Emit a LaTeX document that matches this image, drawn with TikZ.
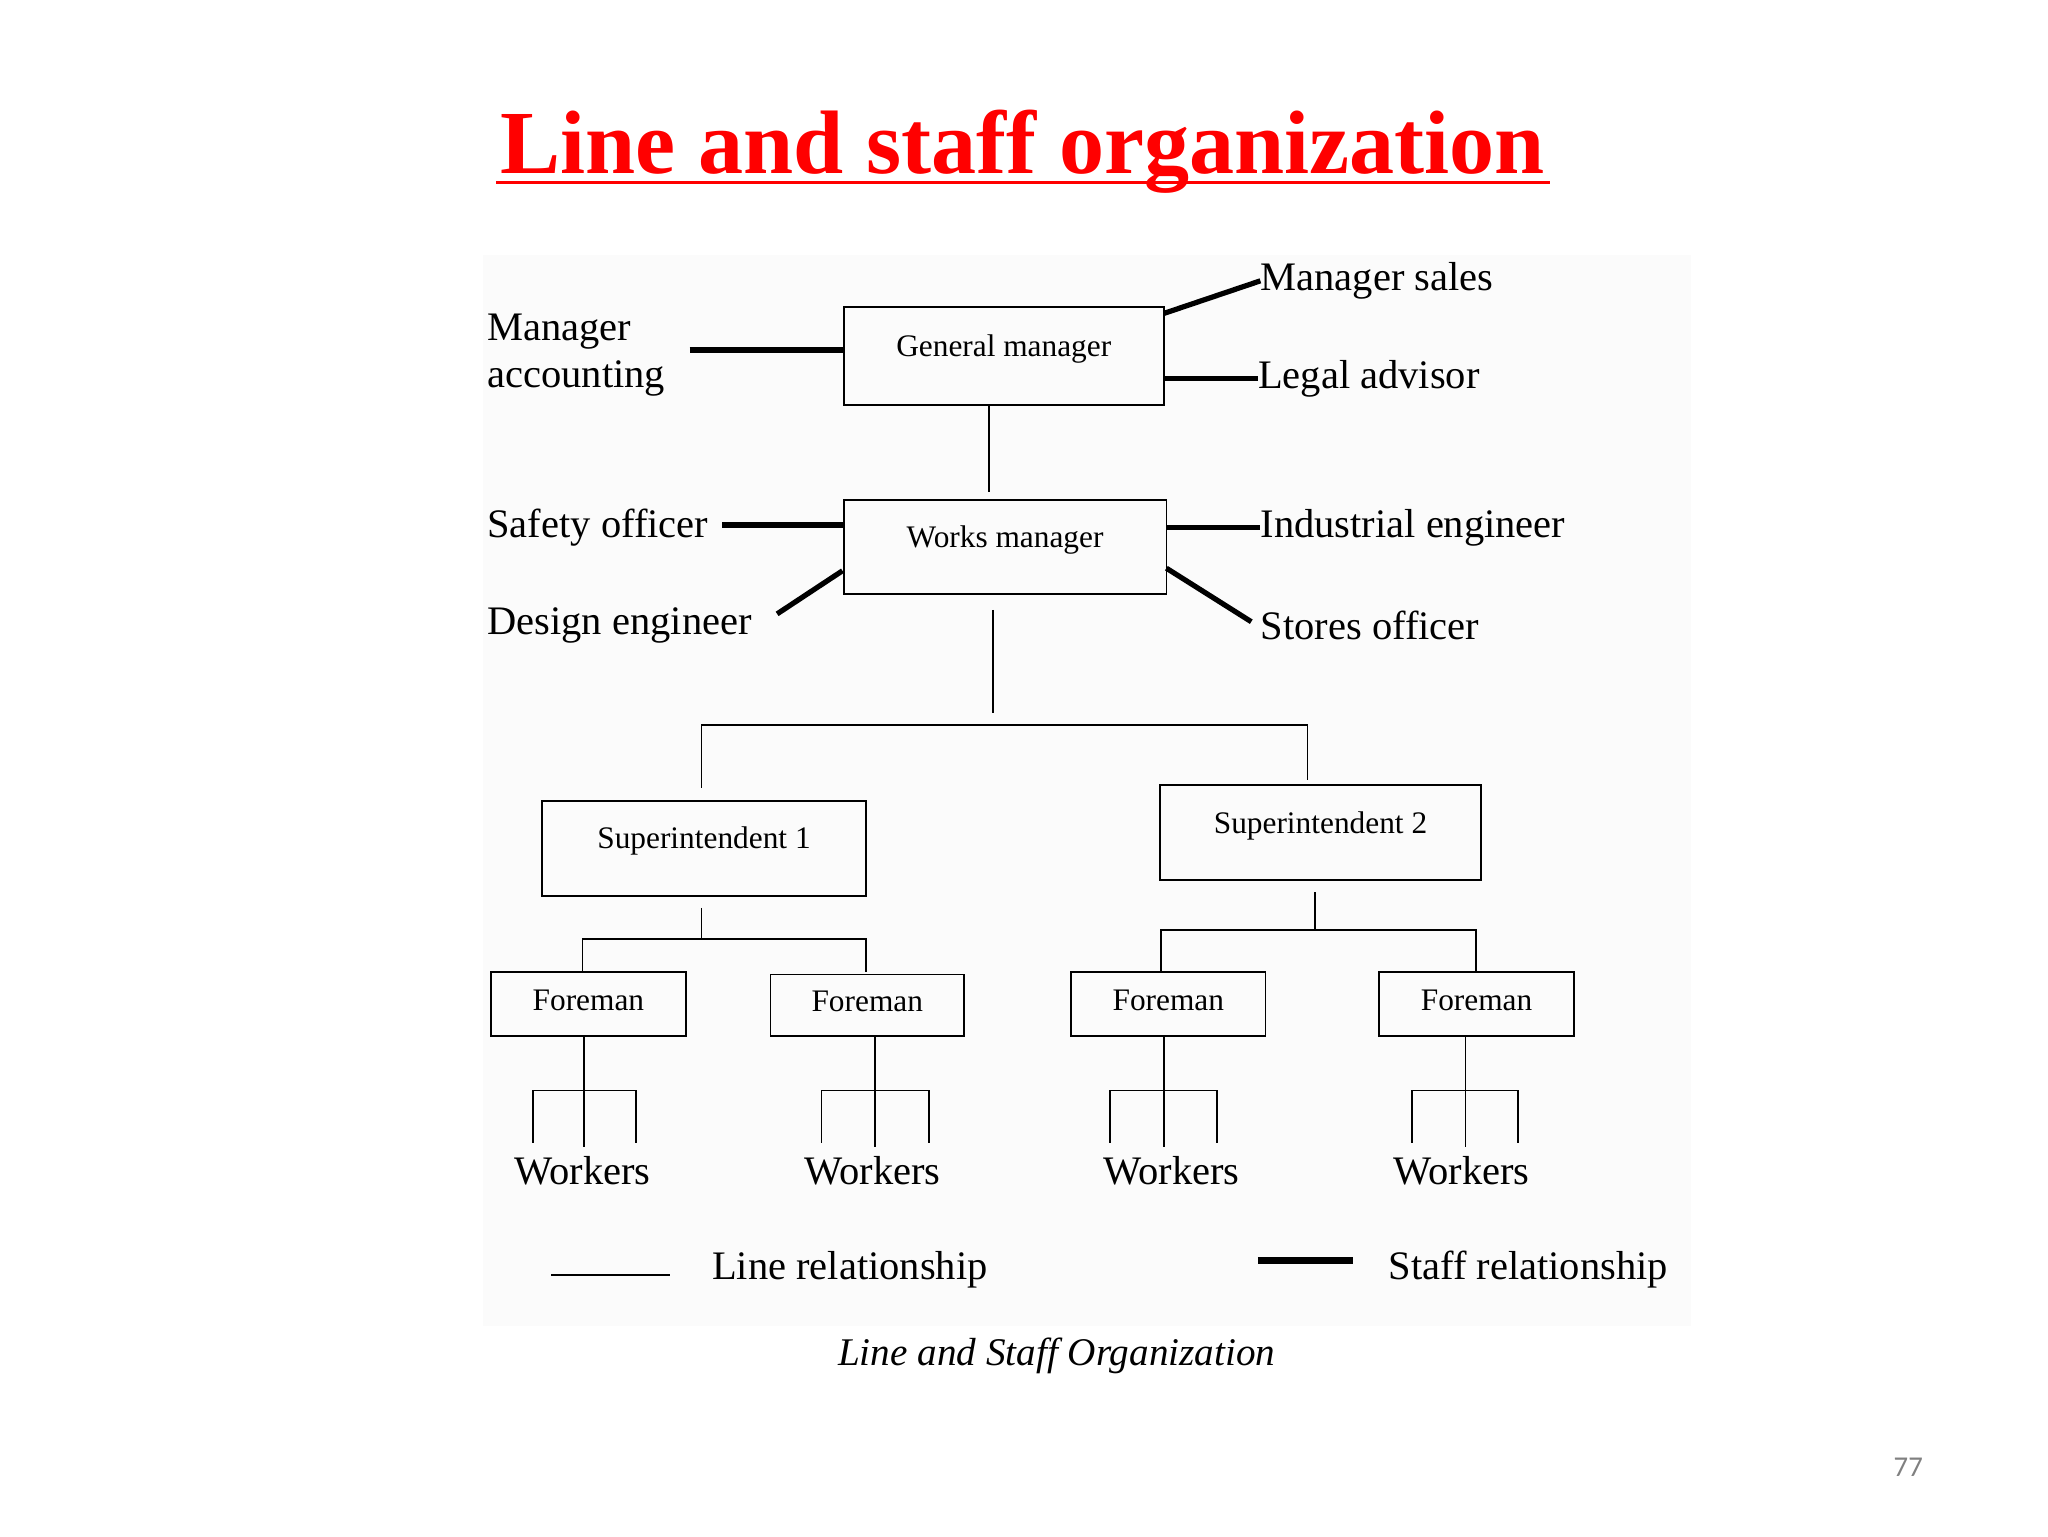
\documentclass[tikz,border=0pt]{standalone}
\usepackage{fontspec}
\setmainfont{Liberation Serif}
\newfontfamily\pgnum{Carlito}
\begin{document}
\begin{tikzpicture}[x=1pt,y=-1pt,
 box/.style={draw,line width=1.3pt,minimum width=#1,inner sep=0pt,text depth=16pt,font=\fontsize{24}{26}\selectfont},
 lbl/.style={font=\fontsize{31}{36}\selectfont,inner sep=0pt},
 ln/.style={line width=1.3pt},
 st/.style={line width=4pt}]
\useasboundingbox (0,0) rectangle (1568,1176);
\fill[gray!3] (370,195) rectangle (1295,1015);
\node[font=\fontsize{69}{76}\selectfont\bfseries,text=red] (title) at (783,116) {Line and staff organization};
\draw[red,line width=2.5pt] (380,140) -- (1187,140);
% boxes
\node[box=245pt,minimum height=75pt] (gm) at (768.5,272.5) {General manager};
\node[box=247pt,minimum height=72pt] (wm) at (769.5,419) {Works manager};
\node[box=248pt,minimum height=73pt] (s1) at (539,649.5) {Superintendent 1};
\node[box=246pt,minimum height=73pt] (s2) at (1011,637.5) {Superintendent 2};
\node[box=149pt,minimum height=49pt,text depth=6pt] (f1) at (450.5,768.5) {Foreman};
\node[box=148pt,minimum height=47pt,text depth=6pt] (f2) at (664,769.5) {Foreman};
\node[box=149pt,minimum height=49pt,text depth=6pt] (f3) at (894.5,768.5) {Foreman};
\node[box=149pt,minimum height=49pt,text depth=6pt] (f4) at (1130.5,768.5) {Foreman};
% staff labels
\node[lbl,anchor=west,align=left] (ma) at (373,272) {Manager\\accounting};
\node[lbl,anchor=west] (ms) at (965,215) {Manager sales};
\node[lbl,anchor=west] (la) at (963,290) {Legal advisor};
\node[lbl,anchor=west] (so) at (373,404) {Safety officer};
\node[lbl,anchor=west] (de) at (373,479) {Design engineer};
\node[lbl,anchor=west] (ie) at (965,404) {Industrial engineer};
\node[lbl,anchor=west] (sto) at (965,479) {Stores officer};
\coordinate (a1) at (528,268); \draw[st] (a1) -- (gm.west|-a1);
\coordinate (a2) at (891,240); \draw[st] (a2) -- (ms.west);
\coordinate (a3) at (891,290); \draw[st] (a3) -- (la.west);
\coordinate (a4) at (553,402); \draw[st] (a4) -- (wm.west|-a4);
\coordinate (a5) at (595,470); \coordinate (a5e) at (645,437); \draw[st] (a5) -- (a5e);
\coordinate (a6) at (893,404); \draw[st] (a6) -- (ie.west|-a6);
\coordinate (a7) at (893,435); \coordinate (a7e) at (958,476); \draw[st] (a7) -- (a7e);
% line relationships
\draw[ln] (gm.south-|757,0) -- (757,377);
\draw[ln] (760,467) -- (760,546);
\draw[ln] (537,603) -- (537,555) -- (1001,555) -- (1001,597);
\draw[ln] (537,695) -- (537,719);
\draw[ln] (446,744) -- (446,719) -- (663,719) -- (663,744);
\draw[ln] (1007,683) -- (1007,712);
\draw[ln] (889,744) -- (889,712) -- (1130,712) -- (1130,744);
\foreach \n/\c/\l/\r/\tx in {w1/447/408/487/446,w2/670/629/711/668,w3/891/850/932/897,w4/1122/1081/1162/1119}{
 \draw[ln] (\c,793) -- (\c,878);
 \draw[ln] (\l,875) -- (\l,835) -- (\r,835) -- (\r,875);
 \node[lbl] (\n) at (\tx,896) {Workers};
}
% legend
\node[lbl,anchor=west] (lr) at (545,972) {Line relationship};
\node[lbl,anchor=west] (sr) at (1063,972) {Staff relationship};
\coordinate (l1) at (422,976); \draw[ln] (l1) -- (513,976);
\coordinate (l2) at (963,965); \draw[line width=5pt] (l2) -- (1036,965);
\node[font=\fontsize{30}{32}\selectfont\itshape] (cap) at (809,1038) {Line and Staff Organization};
\node[font=\pgnum\fontsize{22}{24}\selectfont,text=gray] (pg) at (1461,1123) {77};
\end{tikzpicture}
\end{document}
